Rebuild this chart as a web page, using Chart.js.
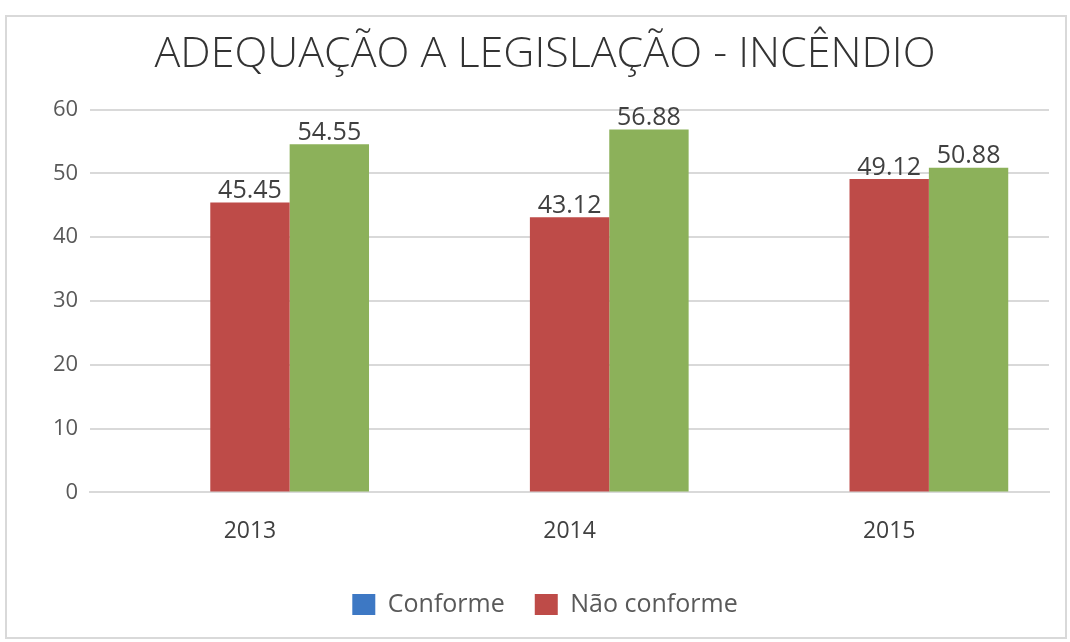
<!DOCTYPE html>
<html>
<head>
<meta charset="utf-8">
<script src="https://cdn.jsdelivr.net/npm/chart.js@4"></script>
<style>
    html, body { margin: 0; padding: 0; background: #fff; }
    #frame {
        position: absolute;
        left: 5px; top: 15px;
        width: 1058px; height: 620px;
        border: 2px solid #d9d9d9;
    }
    #chart { display: block; }
</style>
</head>
<body>
<div id="frame"><canvas id="chart" width="1058" height="620"></canvas></div>
<script>
const categories = ['2013', '2014', '2015'];
// the blue "Conforme" series has no values, it only keeps its slot in each group
const conforme = [null, null, null];
const naoConforme = [45.45, 43.12, 49.12];
const outro = [54.55, 56.88, 50.88];
const yTicks = [0, 10, 20, 30, 40, 50, 60];

const font = '"Open Sans", "Noto Sans", sans-serif';

// values written above each bar
const barLabels = {
    id: 'barLabels',
    afterDatasetsDraw(chart) {
        const ctx = chart.ctx;
        ctx.save();
        ctx.font = '25px ' + font;
        ctx.fillStyle = '#404040';
        ctx.textAlign = 'center';
        ctx.textBaseline = 'bottom';
        chart.data.datasets.forEach((ds, i) => {
            chart.getDatasetMeta(i).data.forEach((bar, j) => {
                if (ds.data[j] == null) return;
                ctx.fillText(ds.data[j].toFixed(2), bar.x, bar.y + 1);
            });
        });
        ctx.restore();
    }
};

new Chart(document.getElementById('chart'), {
    type: 'bar',
    data: {
        labels: categories,
        datasets: [
            { label: 'Conforme', data: conforme, backgroundColor: '#3d78c4' },
            { label: 'Não conforme', data: naoConforme, backgroundColor: '#be4b48' },
            { label: '', data: outro, backgroundColor: '#8cb15a' }
        ]
    },
    options: {
        responsive: false,
        animation: false,
        categoryPercentage: 0.745,
        barPercentage: 1,
        layout: { padding: { left: 34, right: 16, top: 0, bottom: 10 } },
        scales: {
            x: {
                grid: { display: false },
                border: { color: '#d9d9d9', width: 2 },
                ticks: { color: '#404040', font: { family: font, size: 23 }, padding: 17 }
            },
            y: {
                min: 0,
                max: 60,
                afterBuildTicks: (axis) => { axis.ticks = yTicks.map(v => ({ value: v })); },
                grid: { color: '#d9d9d9', lineWidth: 2, drawTicks: false },
                border: { display: false },
                ticks: { color: '#595959', font: { family: font, size: 22 }, padding: 12 }
            }
        },
        plugins: {
            title: {
                display: true,
                text: 'ADEQUAÇÃO A LEGISLAÇÃO - INCÊNDIO',
                color: '#333333',
                font: { family: font, size: 43, weight: 300 },
                padding: { top: 12, bottom: 29 }
            },
            legend: {
                position: 'bottom',
                labels: {
                    color: '#595959',
                    font: { family: font, size: 25 },
                    boxWidth: 23,
                    boxHeight: 21,
                    padding: 30,
                    filter: (item) => item.text !== ''
                }
            },
            tooltip: { enabled: false }
        }
    },
    plugins: [barLabels]
});
</script>
</body>
</html>
